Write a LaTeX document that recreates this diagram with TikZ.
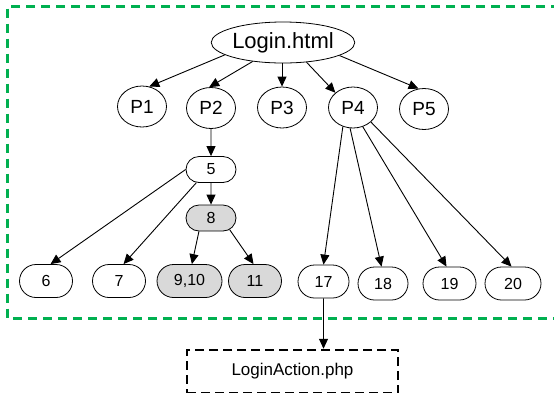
\documentclass[tikz,border=0pt]{standalone}
\usepackage{fontspec}
\setmainfont{Liberation Sans}
\usepackage{tikz}
\usetikzlibrary{arrows.meta, shapes.geometric, shapes.misc}

\definecolor{boxgreen}{RGB}{0,176,80}
\definecolor{nodegray}{RGB}{217,217,217}

\begin{document}
\begin{tikzpicture}[x=1pt, y=-1pt,
  every edge/.style={draw, line width=0.9pt, -{Triangle[length=10pt,width=9pt]}},
  page/.style={ellipse, draw, line width=0.8pt, inner sep=0pt,
    minimum width=49pt, minimum height=41pt, font=\fontsize{19}{19}\selectfont},
  blk/.style={rounded rectangle, draw, line width=0.8pt, inner sep=0pt,
    minimum width=53pt, minimum height=33pt, font=\fontsize{16}{16}\selectfont},
  small/.style={blk, minimum width=50pt, minimum height=26pt},
  hit/.style={fill=nodegray}]
  \useasboundingbox (0,0) rectangle (554,392);
  % the tested part
  \draw[boxgreen, line width=3pt, dash pattern=on 9pt off 6pt] (560,6) -- (7.5,6) -- (7.5,318) -- (560,318);

  \node[ellipse, draw, line width=0.8pt, inner sep=0pt, minimum width=137pt, minimum height=41pt,
    font=\fontsize{22}{22}\selectfont] (login) at (283,42.5) {Login.html};
  \node[page] (p1) at (142,106.5) {P1};
  \node[page] (p2) at (211,108) {P2};
  \node[page] (p3) at (282,107.5) {P3};
  \node[page] (p4) at (353,107.5) {P4};
  \node[page] (p5) at (424,109) {P5};

  \node[small] (n5) at (211,169.5) {5};
  \node[small, hit] (n8) at (211,218) {8};

  \node[blk] (n6) at (46,281) {6};
  \node[blk] (n7) at (119,281) {7};
  \node[blk, hit, minimum width=65pt] (n910) at (189.5,281) {9,10};
  \node[blk, hit] (n11) at (255,281) {11};
  \node[blk, minimum width=51pt] (n17) at (323.5,281.5) {17};
  \node[blk, minimum width=50pt] (n18) at (383,283.5) {18};
  \node[blk] (n19) at (449.5,283.5) {19};
  \node[blk, minimum width=56pt] (n20) at (513,283.5) {20};

  \node[draw, line width=2.5pt, dash pattern=on 9pt off 5pt, minimum width=211pt, minimum height=43pt,
    font=\fontsize{17}{17}\selectfont] (action) at (292.5,371.5) {LoginAction.php};

  \path (login.192) edge (p1.70)
        (login.212) edge (p2.95)
        (login.south -| p3) edge (p3.north)
        (login.320) edge (p4.140)
        (login.347) edge (p5.105);
  \path (p2) edge (n5)
        (n5) edge (n8)
        (n5.180) edge (n6.75)
        (n5.222) edge (n7.75)
        (n8.228) edge (n910.82)
        (n8.328) edge (n11.95);
  \path (p4.242) edge (n17.north)
        (p4.262) edge (n18.95)
        (p4.297) edge (n19.100)
        (p4.321) edge (n20.95);
  \path (n17) edge (n17 |- action.north);
\end{tikzpicture}
\end{document}
